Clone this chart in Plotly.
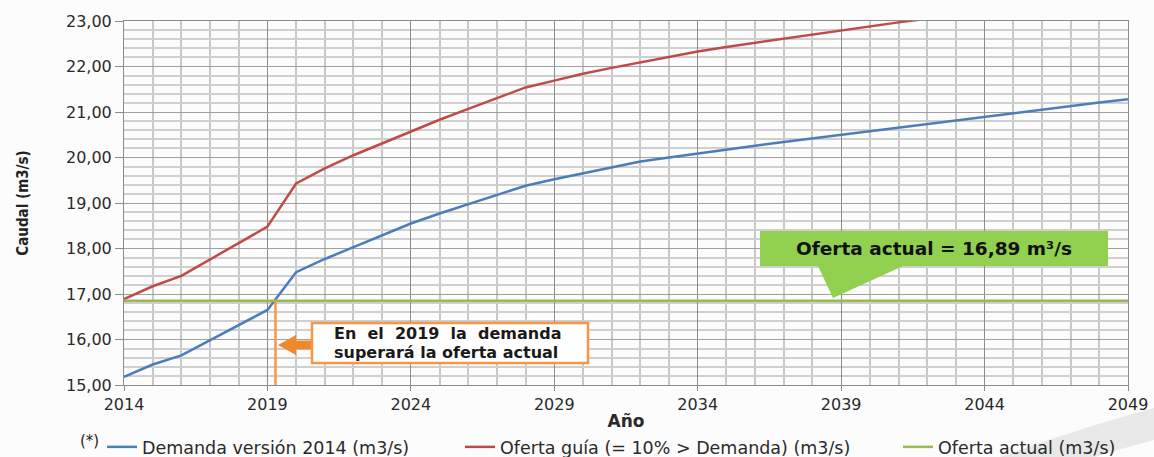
import plotly.graph_objects as go

# ---------------- data ----------------
years = list(range(2014, 2050))
demanda = [15.18, 15.45, 15.65, 15.98, 16.32, 16.65, 17.48, 17.77, 18.03, 18.29,
           18.55, 18.77, 18.97, 19.17, 19.38, 19.52, 19.65, 19.78, 19.91, 20.00,
           20.09, 20.18, 20.26, 20.34, 20.42, 20.50, 20.58, 20.66, 20.74, 20.82,
           20.89, 20.97, 21.05, 21.13, 21.21, 21.28]
guia_years = list(range(2014, 2043))
oferta_guia = [16.89, 17.17, 17.40, 17.76, 18.13, 18.48, 19.43, 19.76, 20.05, 20.31,
               20.57, 20.83, 21.07, 21.31, 21.54, 21.69, 21.84, 21.97, 22.09, 22.21,
               22.33, 22.43, 22.52, 22.61, 22.70, 22.80, 22.89, 22.97, 23.05]
actual_years = [2014, 2049]
oferta_actual = [16.85, 16.85]

series_names = ["Demanda versión 2014 (m3/s)",
                "Oferta guía (= 10% > Demanda) (m3/s)",
                "Oferta actual (m3/s)"]
cruce_year = 2019.28

# ---------------- geometry helpers ----------------
W, H = 1154, 457
L, R, T, B = 124, 26, 21, 72
X0, X1 = 2014, 2049
Y0, Y1 = 15, 23
PW, PH = W - L - R, H - T - B


def px2x(px):
    return X0 + (px - L) / PW * (X1 - X0)


def py2y(py):
    return Y0 + (H - B - py) / PH * (Y1 - Y0)


def pxp(px):
    return (px - L) / PW


def pyp(py):
    return (H - B - py) / PH


BLUE = "#4A7EBB"
RED = "#BE4B48"
GREEN = "#98B954"
ORANGE = "#F79646"
CALLOUT = "#92D050"
FONT = "DejaVu Sans"

fig = go.Figure()
fig.add_trace(go.Scatter(x=years, y=demanda, mode="lines", name=series_names[0],
                         line=dict(color=BLUE, width=2.5), legend="legend"))
fig.add_trace(go.Scatter(x=guia_years, y=oferta_guia, mode="lines", name=series_names[1],
                         line=dict(color=RED, width=2.5), legend="legend2"))
fig.add_trace(go.Scatter(x=actual_years, y=oferta_actual, mode="lines", name=series_names[2],
                         line=dict(color=GREEN, width=2.5), legend="legend3"))

shapes = []
# decorative page-curl shadow, bottom right
shadow_path = (f"M {pxp(1000)},{pyp(457)} Q {pxp(1080)},{pyp(428)} {pxp(1154)},{pyp(408)} "
               f"L {pxp(1154)},{pyp(440)} Q {pxp(1120)},{pyp(449)} {pxp(1095)},{pyp(457)} Z")
shapes.append(dict(type="path", xref="paper", yref="paper", path=shadow_path,
                   fillcolor="#e2e2e2", opacity=0.8, line=dict(width=0), layer="below"))
# orange vertical marker
shapes.append(dict(type="line", xref="x", yref="y", x0=cruce_year, x1=cruce_year,
                   y0=Y0, y1=oferta_actual[0], line=dict(color=ORANGE, width=2.5)))
# orange block arrow (pointing left)
tip_x, head_x, tail_x = px2x(278), px2x(296), px2x(316)
cy = py2y(345)
hh = 10 * (Y1 - Y0) / PH
sh = 4.5 * (Y1 - Y0) / PH
arrow_path = (f"M {tip_x},{cy} L {head_x},{cy + hh} L {head_x},{cy + sh} "
              f"L {tail_x},{cy + sh} L {tail_x},{cy - sh} L {head_x},{cy - sh} "
              f"L {head_x},{cy - hh} Z")
shapes.append(dict(type="path", xref="x", yref="y", path=arrow_path,
                   fillcolor="#EE8A2E", line=dict(width=0)))
# green callout with pointer
bx0, bx1 = px2x(760), px2x(1108)
by0, by1 = py2y(266), py2y(231)
p0, p1, ptip = px2x(818), px2x(903), px2x(833)
tipy = py2y(298)
callout_path = (f"M {bx0},{by1} L {bx1},{by1} L {bx1},{by0} L {p1},{by0} "
                f"L {ptip},{tipy} L {p0},{by0} L {bx0},{by0} Z")
shapes.append(dict(type="path", xref="x", yref="y", path=callout_path,
                   fillcolor=CALLOUT, line=dict(width=0)))
# orange-bordered text box
shapes.append(dict(type="rect", xref="x", yref="y",
                   x0=px2x(312), x1=px2x(588), y0=py2y(363), y1=py2y(323),
                   fillcolor="white", line=dict(color=ORANGE, width=2.5)))

annotations = []
annotations.append(dict(
    xref="paper", yref="paper", x=pxp(447), y=pyp(333), xanchor="center", yanchor="middle",
    text="<b>En&nbsp;&nbsp;el&nbsp;&nbsp;2019&nbsp;&nbsp;la&nbsp;&nbsp;demanda</b>",
    showarrow=False, font=dict(family=FONT, size=16, color="#1a1a1a")))
annotations.append(dict(
    xref="paper", yref="paper", x=pxp(446), y=pyp(352), xanchor="center", yanchor="middle",
    text="<b>superará la oferta actual</b>",
    showarrow=False, font=dict(family=FONT, size=16, color="#1a1a1a")))
annotations.append(dict(
    xref="paper", yref="paper", x=pxp(934), y=pyp(248), xanchor="center", yanchor="middle",
    text="<b>Oferta actual = 16,89 m³/s</b>", showarrow=False,
    font=dict(family=FONT, size=18.5, color="#111111")))
annotations.append(dict(
    xref="paper", yref="paper", x=pxp(89), y=pyp(441), xanchor="center", yanchor="middle",
    text="(*)", showarrow=False, font=dict(family=FONT, size=15, color="#222222")))

legend_common = dict(orientation="h", yanchor="middle", xanchor="left",
                     bgcolor="rgba(0,0,0,0)", font=dict(family=FONT, size=17.5, color="#2a2a2a"),
                     itemwidth=30, y=pyp(447))

fig.update_layout(
    width=W, height=H,
    margin=dict(l=L, r=R, t=T, b=B, autoexpand=False),
    paper_bgcolor="#fcfcfc", plot_bgcolor="#fcfcfc",
    separators=",.",
    showlegend=True,
    legend=dict(legend_common, x=pxp(102)),
    legend2=dict(legend_common, x=pxp(460)),
    legend3=dict(legend_common, x=pxp(898)),
    shapes=shapes,
    annotations=annotations,
    xaxis=dict(range=[X0, X1], tick0=2014, dtick=5, tickformat="d",
               showgrid=True, gridcolor="#8c8c8c", gridwidth=1,
               minor=dict(tick0=2014, dtick=1, showgrid=True, gridcolor="#c8c8c8", gridwidth=1.5),
               ticks="outside", ticklen=5, tickcolor="#8c8c8c",
               showline=True, linecolor="#8c8c8c", linewidth=1, mirror=True, zeroline=False,
               tickfont=dict(family=FONT, size=16, color="#2a2a2a"),
               title=dict(text="<b>Año</b>", font=dict(family=FONT, size=17, color="#2a2a2a"),
                          standoff=1)),
    yaxis=dict(range=[Y0, Y1], tick0=15, dtick=1, tickformat=".2f",
               showgrid=True, gridcolor="#a0a0a0", gridwidth=1,
               minor=dict(tick0=15, dtick=0.2, showgrid=True, gridcolor="#cfcfcf", gridwidth=1.5),
               ticks="outside", ticklen=8, tickcolor="#8c8c8c",
               showline=True, linecolor="#8c8c8c", linewidth=1, mirror=True, zeroline=False,
               tickfont=dict(family=FONT, size=16, color="#2a2a2a"),
               title=dict(text="<b>Caudal (m3/s)</b>",
                          font=dict(family="Liberation Sans Narrow, DejaVu Sans Condensed, Liberation Sans",
                                    size=15, color="#222222"),
                          standoff=33)),
)

fig.write_html("out.html", config={"displayModeBar": False},
               post_script="document.body.style.margin='0';")
